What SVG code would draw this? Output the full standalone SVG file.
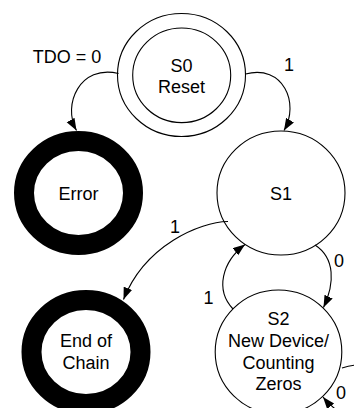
<svg xmlns="http://www.w3.org/2000/svg" width="354" height="408" viewBox="0 0 354 408">
<style>
.st{fill:#fff;stroke:#000;stroke-width:1.1}
.ring{fill:#fff;stroke:#000;stroke-width:20}
.t{font-family:"Liberation Sans",Arial,sans-serif;font-size:18px;fill:#000;text-anchor:middle}
.c{fill:none;stroke:#000;stroke-width:1.1}
</style>
<defs>
<marker id="ah" markerUnits="userSpaceOnUse" markerWidth="13" markerHeight="10" refX="12" refY="4.5" orient="auto">
<path d="M0,0 L12,4.5 L0,9 z" fill="#000"/>
</marker>
</defs>
<rect width="354" height="408" fill="#fff"/>
<g id="S0">
<ellipse class="st" cx="181.5" cy="75" rx="64" ry="61.5"/>
<ellipse class="st" cx="181.7" cy="75.3" rx="49" ry="47.3"/>
<text class="t" x="181.5" y="71.5">S0</text>
<text class="t" x="181.5" y="92.5">Reset</text>
</g>
<g id="Error">
<ellipse class="ring" cx="78.5" cy="193" rx="54.5" ry="52"/>
<text class="t" x="78.5" y="199.5">Error</text>
</g>
<g id="S1">
<ellipse class="st" cx="281" cy="193" rx="64" ry="62"/>
<text class="t" x="281" y="199.5">S1</text>
</g>
<g id="EndOfChain">
<ellipse class="ring" cx="86" cy="352" rx="54.5" ry="52"/>
<text class="t" x="86" y="347">End of</text>
<text class="t" x="86" y="369">Chain</text>
</g>
<g id="S2">
<ellipse class="st" cx="278.5" cy="352" rx="63.3" ry="62"/>
<text class="t" x="278.5" y="325">S2</text>
<text class="t" x="278.5" y="346.5">New Device/</text>
<text class="t" x="278.5" y="368.5">Counting</text>
<text class="t" x="278.5" y="390">Zeros</text>
</g>
<g id="connectors">
<path class="c" d="M118.5,73.5 C80,64 62,105 76.5,130.5" marker-end="url(#ah)"/>
<text class="t" x="67" y="62.7">TDO = 0</text>
<path class="c" d="M245.5,74 C283,64 300,103 284,130.5" marker-end="url(#ah)"/>
<text class="t" x="289" y="71">1</text>
<path class="c" d="M228,221.5 C200,222 145,245 123.5,299.5" marker-end="url(#ah)"/>
<text class="t" x="175" y="233.3">1</text>
<path class="c" d="M315,245 C335,258 335,283 323.5,307.5" marker-end="url(#ah)"/>
<text class="t" x="339" y="267.3">0</text>
<path class="c" d="M233,309 C215,290 222,262 245,244.5" marker-end="url(#ah)"/>
<text class="t" x="208.5" y="304">1</text>
<path class="c" d="M342,368 C420,345 375,460 323,397" marker-end="url(#ah)"/>
<text class="t" x="341" y="399">0</text>
</g>
</svg>
